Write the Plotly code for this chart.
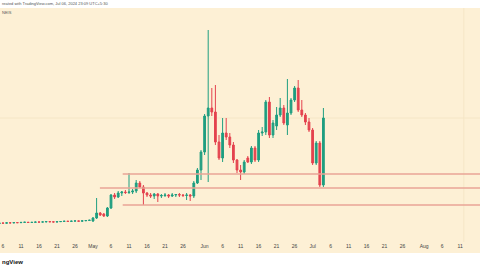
import pandas as pd
import plotly.graph_objects as go

# ---- data (price units) ----
opens = [0.365,0.370,0.368,0.372,0.371,0.374,0.373,0.376,0.378,0.375,0.377,0.380,0.379,0.381,0.384,0.382,0.380,0.383,0.385,0.388,0.386,0.389,0.391,0.388,0.392,0.395,
         0.39,0.42,0.47,0.46,0.44,0.52,0.65,0.63,0.67,0.68,0.675,0.68,0.69,0.77,0.73,0.67,0.65,0.64,0.66,0.64,0.645,0.65,0.64,0.65,0.655,0.65,0.645,0.65,
         0.64,0.77,0.90,1.08,1.44,1.52,1.48,1.18,1.02,1.27,1.23,1.15,1.00,0.90,0.88,1.02,0.98,1.12,1.00,1.27,1.28,1.58,1.25,1.34,1.45,1.52,1.35,1.47,1.60,1.72,1.50,1.45,1.38,1.30,0.97,1.17,0.75]
highs = [0.374,0.373,0.375,0.375,0.377,0.377,0.379,0.381,0.380,0.380,0.383,0.383,0.384,0.387,0.386,0.384,0.386,0.389,0.391,0.390,0.392,0.395,0.393,0.396,0.399,0.402,
         0.43,0.62,0.48,0.47,0.53,0.66,0.67,0.69,0.69,0.70,0.87,0.71,0.80,0.79,0.75,0.68,0.67,0.67,0.67,0.66,0.67,0.66,0.67,0.66,0.67,0.66,0.67,0.66,
         0.79,0.92,1.10,1.46,2.30,1.72,1.75,1.25,1.42,1.42,1.27,1.18,1.01,0.95,1.00,1.04,1.14,1.14,1.30,1.33,1.60,1.63,1.40,1.53,1.62,1.55,1.81,1.62,1.74,1.80,1.60,1.47,1.42,1.32,1.19,1.19,1.52]
lows = [0.362,0.365,0.365,0.368,0.368,0.370,0.370,0.373,0.372,0.372,0.374,0.376,0.376,0.378,0.379,0.377,0.377,0.380,0.382,0.383,0.383,0.386,0.385,0.385,0.389,0.392,
        0.38,0.41,0.44,0.43,0.43,0.51,0.61,0.62,0.64,0.66,0.66,0.66,0.67,0.72,0.55,0.63,0.62,0.61,0.58,0.62,0.63,0.62,0.63,0.63,0.63,0.63,0.60,0.59,
        0.62,0.76,0.80,1.05,0.78,1.44,1.15,1.00,0.98,1.20,1.12,0.97,0.87,0.80,0.86,0.97,0.96,0.98,0.98,1.24,1.25,1.22,1.22,1.30,1.43,1.35,1.25,1.45,1.58,1.48,1.43,1.35,1.28,0.95,0.95,0.73,0.73]
closes = [0.370,0.368,0.372,0.371,0.374,0.373,0.376,0.378,0.375,0.377,0.380,0.379,0.381,0.384,0.382,0.380,0.383,0.385,0.388,0.386,0.389,0.391,0.388,0.392,0.395,0.398,
          0.42,0.47,0.45,0.44,0.52,0.65,0.63,0.67,0.68,0.675,0.68,0.69,0.77,0.73,0.67,0.65,0.64,0.66,0.64,0.645,0.65,0.64,0.65,0.655,0.65,0.645,0.65,0.64,
          0.77,0.90,1.08,1.44,1.52,1.48,1.18,1.02,1.27,1.23,1.15,1.00,0.90,0.88,0.98,0.98,1.12,1.00,1.27,1.28,1.58,1.25,1.37,1.45,1.52,1.37,1.47,1.60,1.72,1.50,1.45,1.38,1.30,0.97,1.17,0.75,1.42]
start_date = "2024-04-05"

# horizontal support levels and where they start
levels = [0.86, 0.72, 0.55]
level_starts = ["2024-05-09 06:00", "2024-05-02 22:00", "2024-05-09 06:00"]

# faint chart grid
grid_price = [1.42]
grid_date = ["2024-08-12"]

tick_dates = ["2024-04-06","2024-04-11","2024-04-16","2024-04-21","2024-04-26","2024-05-01",
              "2024-05-06","2024-05-11","2024-05-16","2024-05-21","2024-05-26","2024-06-01",
              "2024-06-06","2024-06-11","2024-06-16","2024-06-21","2024-06-26","2024-07-01",
              "2024-07-06","2024-07-11","2024-07-16","2024-07-21","2024-07-26","2024-08-01",
              "2024-08-06","2024-08-11","2024-08-16"]
tick_labels = ["6","11","16","21","26","May","6","11","16","21","26","Jun","6","11","16","21","26","Jul",
               "6","11","16","21","26","Aug","6","11","16"]

dates = pd.date_range(start_date, periods=len(opens), freq="D")

CREAM = "#fdf0d5"
GRID = "#f5e6c6"
GREEN = "#1f9e80"
RED = "#e4434f"
LEVEL = "#e8a596"

fig = go.Figure()
fig.add_trace(go.Candlestick(
    x=dates, open=opens, high=highs, low=lows, close=closes,
    increasing=dict(line=dict(color=GREEN, width=1), fillcolor=GREEN),
    decreasing=dict(line=dict(color=RED, width=1), fillcolor=RED),
    whiskerwidth=0, hoverinfo="skip", showlegend=False,
))

shapes = [
    # cream time-axis strip below the plot area
    dict(type="rect", xref="paper", yref="paper", x0=0, x1=1, y0=-0.047, y1=0,
         fillcolor=CREAM, line=dict(width=0), layer="below"),
]
for gp in grid_price:
    shapes.append(dict(type="line", xref="paper", yref="y", x0=0, x1=1, y0=gp, y1=gp,
                       line=dict(color=GRID, width=1), layer="below"))
for gd in grid_date:
    shapes.append(dict(type="line", xref="x", yref="paper", x0=gd, x1=gd, y0=0, y1=1,
                       line=dict(color=GRID, width=1), layer="below"))
for lv, st in zip(levels, level_starts):
    shapes.append(dict(type="line", xref="x", yref="y", x0=st, x1="2024-08-20",
                       y0=lv, y1=lv, line=dict(color=LEVEL, width=1.5), layer="above"))

fig.update_layout(
    width=480, height=270,
    margin=dict(l=0, r=0, t=8, b=28),
    paper_bgcolor="white", plot_bgcolor=CREAM,
    shapes=shapes,
    xaxis=dict(range=["2024-04-05 04:00", "2024-08-16 12:00"], rangeslider=dict(visible=False),
               showgrid=False, zeroline=False, showline=False, ticks="",
               tickvals=tick_dates, ticktext=tick_labels,
               tickfont=dict(size=5, color="#444444", family="Liberation Sans")),
    yaxis=dict(range=[0.18, 2.52], showgrid=False, zeroline=False, showticklabels=False, fixedrange=True),
    annotations=[
        dict(text="reated with TradingView.com, Jul 06, 2024 23:09 UTC+5:30", xref="paper", yref="paper",
             x=0, y=1, yshift=5, xanchor="left", yanchor="middle", showarrow=False,
             font=dict(size=4, color="#555555", family="Liberation Sans")),
        dict(text="NEIS", xref="paper", yref="paper", x=0, y=1, yshift=-4, xanchor="left", yanchor="middle",
             showarrow=False, font=dict(size=4, color="#555555", family="Liberation Sans")),
        dict(text="<b>ngView</b>", xref="paper", yref="paper", x=0, y=0, yshift=-20, xanchor="left",
             yanchor="middle", showarrow=False, font=dict(size=6, color="#111111", family="Liberation Sans")),
    ],
)

fig.write_html("out.html")
